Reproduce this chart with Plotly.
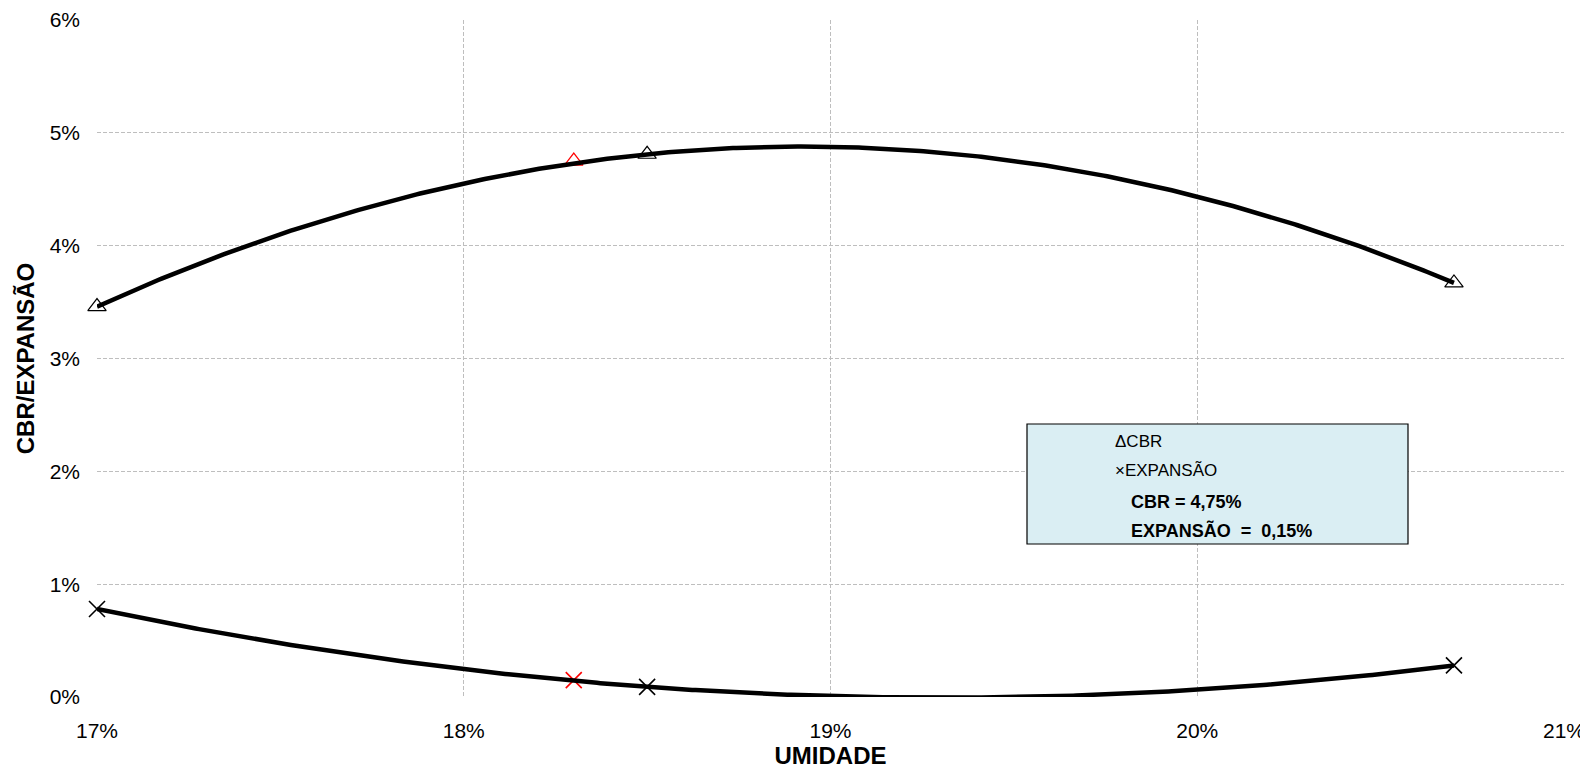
import numpy as np
import plotly.graph_objects as go

# ---- data (fractions, shown as %) ----
umidade = [0.170, 0.185, 0.207]
cbr = [0.0346, 0.0481, 0.0367]
expansao = [0.0078, 0.0009, 0.0028]

umidade_projeto = [0.183]
cbr_projeto = [0.0475]
expansao_projeto = [0.0015]

x_ticks = [0.17, 0.18, 0.19, 0.20, 0.21]
y_ticks = [0.00, 0.01, 0.02, 0.03, 0.04, 0.05, 0.06]

legend_lines = ["ΔCBR", "×EXPANSÃO", "CBR = 4,75%", "EXPANSÃO  =  0,15%"]

# ---- polynomial (order 2) trendlines, as in the original spreadsheet ----
xs = np.linspace(min(umidade), max(umidade), 400)
cbr_fit = np.polyval(np.polyfit(umidade, cbr, 2), xs)
exp_fit = np.polyval(np.polyfit(umidade, expansao, 2), xs)

FONT = "Liberation Sans, Arial, sans-serif"
TRI = dict(symbol="triangle-up-open", size=16)
XM = dict(symbol="x-thin-open", size=16)

fig = go.Figure()

fig.add_trace(go.Scatter(x=umidade, y=cbr, mode="markers", name="CBR", cliponaxis=False,
                         marker=dict(**TRI, color="black", line=dict(width=1.2, color="black")),
                         showlegend=False))
fig.add_trace(go.Scatter(x=umidade, y=expansao, mode="markers", name="EXPANSÃO", cliponaxis=False,
                         marker=dict(**XM, color="black", line=dict(width=1.6, color="black")),
                         showlegend=False))
fig.add_trace(go.Scatter(x=umidade_projeto, y=cbr_projeto, mode="markers", cliponaxis=False,
                         marker=dict(**TRI, color="red", line=dict(width=1.2, color="red")),
                         showlegend=False))
fig.add_trace(go.Scatter(x=umidade_projeto, y=expansao_projeto, mode="markers", cliponaxis=False,
                         marker=dict(**XM, color="red", line=dict(width=1.6, color="red")),
                         showlegend=False))

fig.add_trace(go.Scatter(x=xs, y=cbr_fit, mode="lines", line=dict(color="black", width=4.5),
                         showlegend=False, hoverinfo="skip"))
fig.add_trace(go.Scatter(x=xs, y=exp_fit, mode="lines", line=dict(color="black", width=4.5),
                         showlegend=False, hoverinfo="skip"))

# page body has an 8px margin: figure is drawn at (8, 8) in the window
OFF = 8
W, H = 1588 - OFF, 769 - OFF
L, T = 97 - OFF, 20 - OFF
PW, PH = 1467, 677
R, B = W - L - PW, H - T - PH


def px(xp):
    return (xp - OFF - L) / PW


def py(yp):
    return (T + PH - (yp - OFF)) / PH


fig.add_shape(type="rect", xref="paper", yref="paper",
              x0=px(1027), x1=px(1408), y0=py(544), y1=py(424),
              fillcolor="#DAEEF3", line=dict(color="black", width=1.2), layer="above")

legend_y = [441.5, 470.5, 501.5, 530]
legend_x = [1113, 1113, 1129, 1129]
for i, txt in enumerate(legend_lines):
    bold = i >= 2
    label = txt.replace("  ", "&nbsp;&nbsp;")
    if bold:
        label = "<b>" + label + "</b>"
    fig.add_annotation(xref="paper", yref="paper",
                       x=px(legend_x[i]), y=py(legend_y[i]),
                       xanchor="left", yanchor="middle", showarrow=False,
                       text=label, font=dict(family=FONT, size=18 if bold else 17, color="black"))

grid = dict(showgrid=True, gridcolor="#BEBEBE", gridwidth=1, griddash="4px,2px",
            showline=False, zeroline=False, ticks="", automargin=False,
            tickfont=dict(family=FONT, size=21, color="black"))

fig.update_layout(
    width=W, height=H,
    margin=dict(l=L, r=R, t=T, b=B),
    paper_bgcolor="white", plot_bgcolor="white",
    showlegend=False,
    xaxis=dict(range=[0.17, 0.21], tickvals=x_ticks, tickformat=".0%",
               ticklabelstandoff=19,
               title=dict(text="<b>UMIDADE</b>", standoff=8,
                          font=dict(family=FONT, size=24, color="black")),
               **grid),
    yaxis=dict(range=[0.0, 0.06], tickvals=y_ticks, tickformat=".0%",
               ticklabelstandoff=16,
               title=dict(text="<b>CBR/EXPANSÃO</b>", standoff=8,
                          font=dict(family=FONT, size=24, color="black")),
               **grid),
)

fig.write_html("out.html")
